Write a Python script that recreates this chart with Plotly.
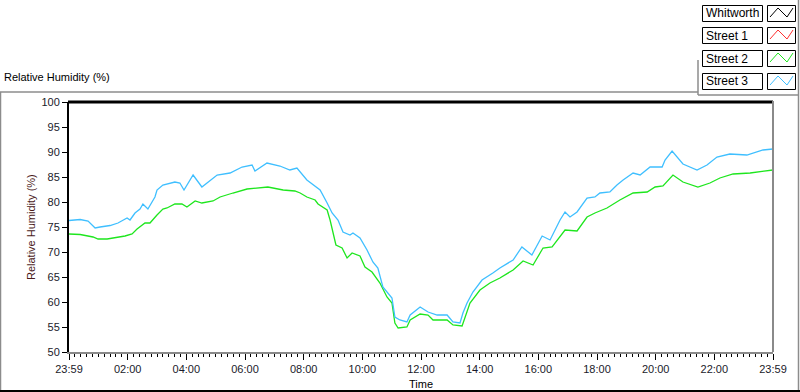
import plotly.graph_objects as go

# ---------------- data (hours after 23:59 of previous day) ----------------
street3_time = [0.00, 0.38, 0.65, 0.89, 1.06, 1.40, 1.67, 1.98, 2.08, 2.25, 2.42, 2.52, 2.69, 2.93,
                3.00, 3.20, 3.61, 3.78, 3.92, 4.23, 4.53, 5.05, 5.49, 5.90, 6.24, 6.34, 6.75, 7.19,
                7.53, 7.77, 8.11, 8.45, 8.56, 8.80, 8.97, 9.17, 9.34, 9.58, 9.68, 9.92, 10.16, 10.36,
                10.53, 10.70, 10.88, 11.01, 11.11, 11.28, 11.52, 11.63, 11.97, 12.24, 12.55, 12.89,
                13.09, 13.33, 13.43, 13.57, 13.77, 14.08, 14.45, 14.69, 15.14, 15.44, 15.78, 16.13,
                16.40, 16.74, 16.91, 17.08, 17.32, 17.66, 17.93, 18.10, 18.44, 18.68, 18.89, 19.23,
                19.47, 19.81, 20.22, 20.32, 20.56, 20.73, 20.93, 21.41, 21.75, 22.09, 22.53, 23.11,
                23.66, 24.00]
street3_rh = [76.3, 76.5, 76.2, 74.8, 75.0, 75.3, 75.8, 76.8, 76.4, 77.8, 78.6, 79.6, 78.6, 81.0,
              82.4, 83.4, 84.0, 83.8, 82.4, 85.4, 83.0, 85.4, 85.8, 87.0, 87.4, 86.2, 87.8, 87.2,
              86.4, 86.8, 84.4, 83.0, 82.4, 79.8, 77.8, 76.4, 74.0, 73.4, 73.8, 72.8, 70.4, 68.0,
              66.8, 63.0, 61.8, 60.8, 57.0, 56.4, 56.0, 57.4, 59.0, 58.0, 57.4, 57.4,
              56.0, 55.8, 57.8, 59.8, 62.0, 64.4, 65.8, 66.8, 68.4, 71.0, 69.4, 73.2,
              72.4, 76.4, 78.0, 77.0, 78.0, 80.8, 81.0, 81.8, 82.0, 83.4, 84.4, 85.8,
              85.4, 87.0, 87.0, 88.4, 90.2, 89.0, 87.6, 86.4, 87.4, 89.0, 89.6, 89.4,
              90.4, 90.6]

street2_time = [0.00, 0.38, 0.82, 0.99, 1.30, 1.50, 1.91, 2.15, 2.32, 2.59, 2.76, 3.00, 3.20, 3.34,
                3.61, 3.85, 4.02, 4.30, 4.53, 4.91, 5.15, 5.59, 6.07, 6.78, 7.30, 7.70, 7.88, 8.11,
                8.39, 8.49, 8.63, 8.80, 8.90, 9.00, 9.10, 9.31, 9.48, 9.65, 9.92, 10.09, 10.33, 10.60,
                10.84, 11.01, 11.11, 11.22, 11.52, 11.63, 11.97, 12.24, 12.41, 12.89, 13.09, 13.40,
                13.50, 13.67, 14.01, 14.35, 14.69, 15.14, 15.48, 15.82, 16.16, 16.47, 16.91, 17.32,
                17.66, 17.93, 18.34, 18.78, 19.23, 19.71, 19.98, 20.25, 20.59, 20.93, 21.44, 21.85,
                22.19, 22.64, 23.22, 23.56, 24.00]
street2_rh = [73.6, 73.5, 73.0, 72.6, 72.6, 72.8, 73.2, 73.6, 74.6, 75.8, 75.8, 77.4, 78.6, 78.8,
              79.6, 79.6, 79.0, 80.2, 79.8, 80.2, 81.0, 81.8, 82.6, 83.0, 82.4, 82.2, 81.8, 81.0,
              80.4, 79.6, 79.0, 78.4, 76.4, 73.8, 71.4, 70.8, 68.8, 69.8, 69.2, 67.0, 66.0, 63.8,
              61.0, 59.8, 55.8, 54.8, 55.0, 56.4, 57.6, 57.4, 56.4, 56.4, 55.4, 55.2,
              57.0, 59.8, 62.4, 63.8, 64.8, 66.4, 68.2, 67.4, 70.8, 71.0, 74.4, 74.2,
              77.0, 77.8, 78.8, 80.4, 81.8, 82.0, 83.0, 83.2, 85.4, 84.0, 83.0, 83.8,
              84.8, 85.6, 85.8, 86.0, 86.4]

whitworth_time, whitworth_rh = [], []
street1_time, street1_rh = [], []

series_names = ["Whitworth", "Street 1", "Street 2", "Street 3"]
series_colors = ["#000000", "#ff3030", "#1ee61e", "#3fbfff"]

x_tickvals = [0, 2, 4, 6, 8, 10, 12, 14, 16, 18, 20, 22, 24]
x_ticktext = ["23:59", "02:00", "04:00", "06:00", "08:00", "10:00", "12:00",
              "14:00", "16:00", "18:00", "20:00", "22:00", "23:59"]

# ---------------- figure ----------------
W, H = 800, 392
L, R, T, B = 69, 773, 102, 352   # plot area pixels


def px(x):
    return (x - L) / (R - L)


def py(y):
    return (B - y) / (B - T)


FONT = "Liberation Sans, Arial, sans-serif"
fig = go.Figure()
data = [(whitworth_time, whitworth_rh), (street1_time, street1_rh),
        (street2_time, street2_rh), (street3_time, street3_rh)]
for (t, v), name, col in zip(data, series_names, series_colors):
    fig.add_trace(go.Scatter(x=t, y=v, mode="lines", name=name,
                             line=dict(color=col, width=1.3), showlegend=False))

fig.update_layout(
    width=W, height=H,
    margin=dict(l=L, r=W - R, t=T, b=H - B, pad=0, autoexpand=False),
    paper_bgcolor="white", plot_bgcolor="white",
    font=dict(family=FONT, size=11, color="#1a1a2a"),
    xaxis=dict(range=[0, 24], tickvals=x_tickvals, ticktext=x_ticktext,
               ticks="outside", ticklen=6, tickwidth=1, tickcolor="black",
               showline=True, linecolor="#8a8a8a", linewidth=2,
               showgrid=False, zeroline=False, automargin=False,
               minor=dict(dtick=0.2, ticks="outside", ticklen=3, tickcolor="black", showgrid=False),
               tickfont=dict(size=11)),
    yaxis=dict(range=[50, 100], dtick=5, tick0=50,
               ticks="outside", ticklen=5, tickwidth=1, tickcolor="black",
               showline=True, linecolor="black", linewidth=2, automargin=False,
               showgrid=False, zeroline=False, tickfont=dict(size=11)),
    showlegend=False,
)

shapes = []
# plot frame top (thick black) and right (gray)
shapes.append(dict(type="line", xref="paper", yref="paper", x0=px(L - 1), x1=px(R), y0=1, y1=1,
                   line=dict(color="black", width=3)))
shapes.append(dict(type="line", xref="paper", yref="paper", x0=1, x1=1, y0=py(T - 1), y1=0,
                   line=dict(color="#8a8a8a", width=2)))
# panel separator line & outer frame
shapes.append(dict(type="line", xref="paper", yref="paper", x0=px(0), x1=px(698), y0=py(92), y1=py(92),
                   line=dict(color="#8c8c8c", width=1.5)))
shapes.append(dict(type="line", xref="paper", yref="paper", x0=px(698), x1=px(698), y0=py(60), y1=py(95),
                   line=dict(color="#8c8c8c", width=1.5)))
shapes.append(dict(type="line", xref="paper", yref="paper", x0=px(698), x1=px(798), y0=py(95), y1=py(95),
                   line=dict(color="#8c8c8c", width=1.5)))
shapes.append(dict(type="line", xref="paper", yref="paper", x0=px(798.5), x1=px(798.5), y0=py(0), y1=py(392),
                   line=dict(color="#8c8c8c", width=1.5)))
shapes.append(dict(type="line", xref="paper", yref="paper", x0=px(0.5), x1=px(0.5), y0=py(92), y1=py(392),
                   line=dict(color="#8c8c8c", width=1.5)))
shapes.append(dict(type="line", xref="paper", yref="paper", x0=px(0), x1=px(800), y0=py(391), y1=py(391),
                   line=dict(color="black", width=2)))

annotations = []
# legend built from boxes
row_tops = [5, 27, 50, 73]
for top, name, col in zip(row_tops, series_names, series_colors):
    bot = top + 16
    shapes.append(dict(type="rect", xref="paper", yref="paper", x0=px(702.5), x1=px(762.5),
                       y0=py(top + 0.5), y1=py(bot + 0.5), line=dict(color="black", width=1),
                       fillcolor="white"))
    shapes.append(dict(type="rect", xref="paper", yref="paper", x0=px(767.5), x1=px(795.5),
                       y0=py(top + 0.5), y1=py(bot + 0.5), line=dict(color="black", width=1),
                       fillcolor="white"))
    zx = [770, 778, 787, 793]
    zy = [bot - 4, top + 3, bot - 4, top + 3]
    path = "M " + " L ".join(f"{px(a)},{py(b)}" for a, b in zip(zx, zy))
    shapes.append(dict(type="path", xref="paper", yref="paper", path=path,
                       line=dict(color=col, width=1)))
    annotations.append(dict(xref="paper", yref="paper", x=px(704), y=py(top + 8.5),
                            text=name, showarrow=False, xanchor="left", yanchor="middle",
                            font=dict(size=12, color="black")))

# titles
annotations.append(dict(xref="paper", yref="paper", x=px(2), y=py(77),
                        text="Relative Humidity (%)", showarrow=False, xanchor="left",
                        yanchor="middle", font=dict(size=11, color="black")))
annotations.append(dict(xref="paper", yref="paper", x=px(31), y=py(227),
                        text="Relative Humidity (%)", showarrow=False, textangle=-90,
                        xanchor="center", yanchor="middle", font=dict(size=11, color="#4a1a1a")))
annotations.append(dict(xref="paper", yref="paper", x=0.5, y=py(384),
                        text="Time", showarrow=False, xanchor="center",
                        yanchor="middle", font=dict(size=11, color="black")))

fig.update_layout(shapes=shapes, annotations=annotations)
fig.write_html("out.html", config={"displayModeBar": False},
               post_script="document.body.style.margin='0';document.body.style.overflow='hidden';")
